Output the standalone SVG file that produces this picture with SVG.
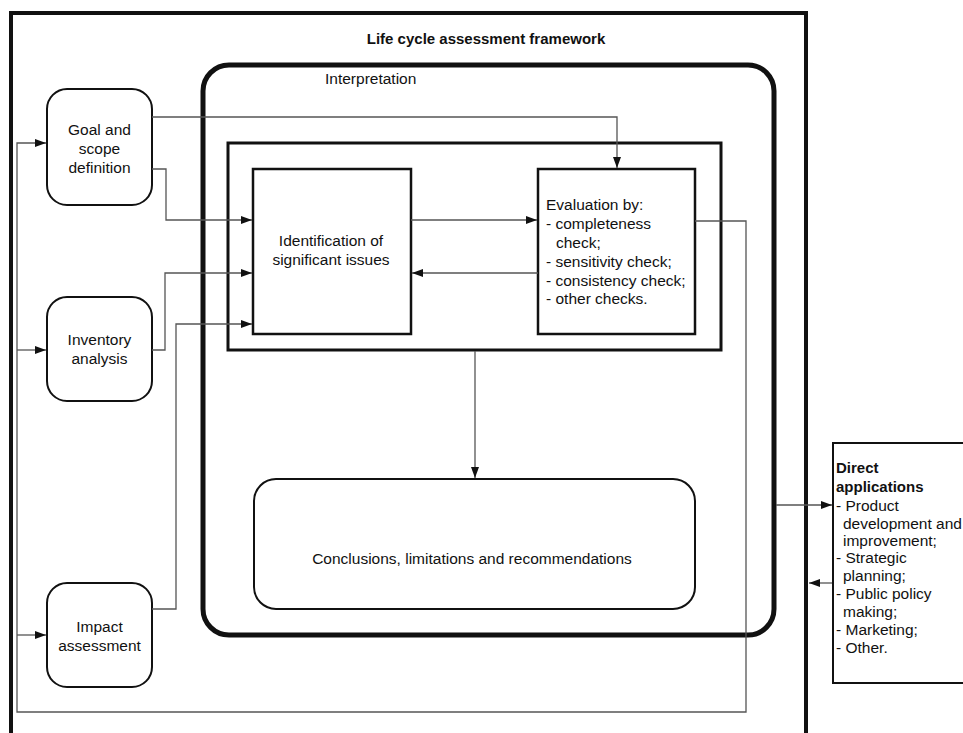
<svg xmlns="http://www.w3.org/2000/svg" width="963" height="733" viewBox="0 0 963 733">
<style>
text{font-family:"Liberation Sans",Arial,sans-serif;font-size:15.5px;fill:#111}
.b{font-weight:bold;font-size:15px}
.box{fill:#fff;stroke:#111}
.c{fill:none;stroke:#555;stroke-width:1.3}
</style>
<defs>
<marker id="ah" markerUnits="userSpaceOnUse" markerWidth="12" markerHeight="8" refX="11" refY="4" orient="auto">
<path d="M0,0 L11,4 L0,8 Z" fill="#111"/>
</marker>
</defs>
<rect width="963" height="733" fill="#fff"/>
<g id="framework">
<rect x="11" y="13" width="795" height="745" fill="none" stroke="#111" stroke-width="4"/>
<text class="b" x="486" y="44" text-anchor="middle">Life cycle assessment framework</text>
</g>
<g id="interpretation">
<rect x="203" y="65" width="571" height="570" rx="26" fill="none" stroke="#111" stroke-width="5"/>
<text x="325" y="84">Interpretation</text>
</g>
<g id="inner">
<rect x="228" y="143" width="493" height="207" fill="none" stroke="#111" stroke-width="3"/>
</g>
<g id="goal">
<rect class="box" x="47" y="89" width="105" height="116" rx="20" stroke-width="2"/>
<text x="99.5" y="135" text-anchor="middle">Goal and</text>
<text x="99.5" y="154" text-anchor="middle">scope</text>
<text x="99.5" y="173" text-anchor="middle">definition</text>
</g>
<g id="inventory">
<rect class="box" x="47" y="297" width="105" height="104" rx="20" stroke-width="2"/>
<text x="99.5" y="345" text-anchor="middle">Inventory</text>
<text x="99.5" y="364" text-anchor="middle">analysis</text>
</g>
<g id="impact">
<rect class="box" x="47" y="583" width="105" height="104" rx="20" stroke-width="2"/>
<text x="99.5" y="632" text-anchor="middle">Impact</text>
<text x="99.5" y="651" text-anchor="middle">assessment</text>
</g>
<g id="identification">
<rect class="box" x="253" y="169" width="158" height="165" stroke-width="2.5"/>
<text x="331" y="246" text-anchor="middle">Identification of</text>
<text x="331" y="265" text-anchor="middle">significant issues</text>
</g>
<g id="evaluation">
<rect class="box" x="538" y="169" width="157" height="165" stroke-width="2.5"/>
<text x="546" y="210">Evaluation by:</text>
<text x="546" y="229">- completeness</text>
<text x="556" y="248">check;</text>
<text x="546" y="267">- sensitivity check;</text>
<text x="546" y="286">- consistency check;</text>
<text x="546" y="304">- other checks.</text>
</g>
<g id="conclusions">
<rect class="box" x="254" y="479" width="441" height="130" rx="22" stroke-width="2"/>
<text x="472" y="564" text-anchor="middle">Conclusions, limitations and recommendations</text>
</g>
<g id="direct">
<rect class="box" x="833" y="443" width="140" height="240" stroke-width="2"/>
<text class="b" x="836" y="473">Direct</text>
<text class="b" x="836" y="492">applications</text>
<text x="836" y="511">- Product</text>
<text x="843" y="529">development and</text>
<text x="843" y="546">improvement;</text>
<text x="836" y="563">- Strategic</text>
<text x="843" y="581">planning;</text>
<text x="836" y="599">- Public policy</text>
<text x="843" y="617">making;</text>
<text x="836" y="635">- Marketing;</text>
<text x="836" y="653">- Other.</text>
</g>
<g id="connectors">
<path class="c" d="M152,117 H617 V168" marker-end="url(#ah)"/>
<path class="c" d="M152,169 H166 V220 H252" marker-end="url(#ah)"/>
<path class="c" d="M152,350 H165 V273 H252" marker-end="url(#ah)"/>
<path class="c" d="M152,609 H176 V324 H252" marker-end="url(#ah)"/>
<path class="c" d="M411,220 H537" marker-end="url(#ah)"/>
<path class="c" d="M538,273 H412" marker-end="url(#ah)"/>
<path class="c" d="M475,351 V478" marker-end="url(#ah)"/>
<path class="c" d="M695,221 H746 V712 H17 V143 H46" marker-end="url(#ah)"/>
<path class="c" d="M17,350 H46" marker-end="url(#ah)"/>
<path class="c" d="M17,635 H46" marker-end="url(#ah)"/>
<path class="c" d="M776,505 H832" marker-end="url(#ah)"/>
<path class="c" d="M832,583 H809" marker-end="url(#ah)"/>
</g>
</svg>
